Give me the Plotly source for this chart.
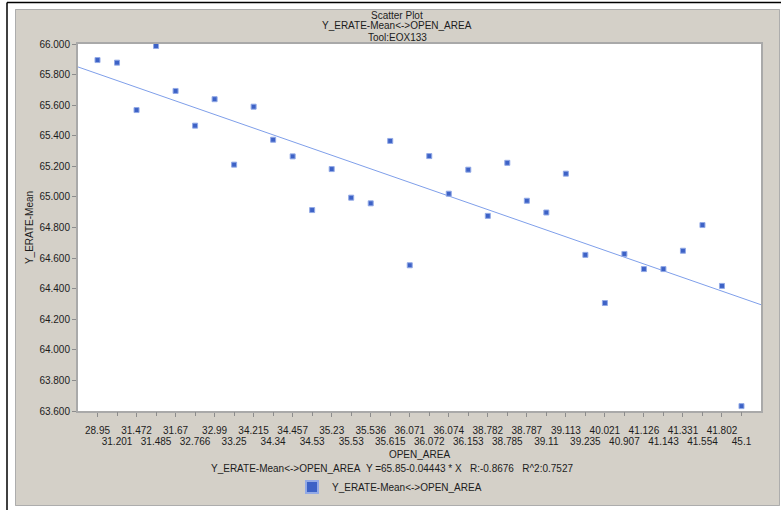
import plotly.graph_objects as go

# OPEN_AREA categories, in plotting order (position 1..34)
open_area = [
    "28.95", "31.201", "31.472", "31.485", "31.67", "32.766", "32.99", "33.25",
    "34.215", "34.34", "34.457", "34.53", "35.23", "35.53", "35.536", "35.615",
    "36.071", "36.072", "36.074", "36.153", "38.782", "38.785", "38.787", "39.11",
    "39.113", "39.235", "40.021", "40.907", "41.126", "41.143", "41.331", "41.554",
    "41.802", "45.1",
]

# Y_ERATE mean for each OPEN_AREA category
erate_mean = [
    65.895, 65.878, 65.568, 65.987, 65.693, 65.466, 65.639, 65.211,
    65.590, 65.374, 65.265, 64.914, 65.182, 64.995, 64.958, 65.366,
    64.553, 65.267, 65.021, 65.178, 64.876, 65.223, 64.975, 64.898,
    65.152, 64.621, 64.306, 64.627, 64.528, 64.528, 64.648, 64.816,
    64.418, 63.632,
]

# Linear fit reported for the series (X = category position)
fit_intercept = 65.85
fit_slope = -0.04443
fit_r = -0.8676
fit_r2 = 0.7527

series_name = "Y_ERATE-Mean<->OPEN_AREA"
title_lines = ["Scatter Plot", "Y_ERATE-Mean<->OPEN_AREA", "Tool:EOX133"]

# ---- page geometry -------------------------------------------------------
W, H = 781, 510
L, R, T, B = 78, 20, 44, 99
PW, PH = W - L - R, H - T - B


def px(x):
    return (x - L) / PW


def py(y):
    return (T + PH - y) / PH


FONT = "Liberation Sans, Arial, sans-serif"
TXT = "#1c1c1c"
PANEL = "#D4D0C8"
FRAME = "#A9A9A9"

positions = list(range(1, len(open_area) + 1))
x_range = [0, len(open_area) + 1]

fit_x = x_range
fit_y = [fit_intercept + fit_slope * v for v in fit_x]

fig = go.Figure()

fig.add_trace(go.Scatter(
    x=fit_x, y=fit_y, mode="lines",
    line=dict(color="#7F9FEA", width=1),
    showlegend=False, hoverinfo="skip",
))

fig.add_trace(go.Scatter(
    x=positions, y=erate_mean, mode="markers", name=series_name,
    marker=dict(symbol="square", size=5, color="#3D62C6",
                line=dict(color="#93AAE6", width=1)),
    customdata=open_area,
    hovertemplate="OPEN_AREA=%{customdata}<br>Y_ERATE-Mean=%{y:.3f}<extra></extra>",
))

# staggered category labels: first row and second row
row1_vals = positions[0::2]
row1_text = open_area[0::2]
row2_vals = positions[1::2]
row2_text = open_area[1::2]

tick_font = dict(family=FONT, size=10, color=TXT)

fig.update_layout(
    width=W, height=H,
    margin=dict(l=L, r=R, t=T, b=B, autoexpand=False),
    paper_bgcolor=PANEL,
    plot_bgcolor="white",
    font=dict(family=FONT, size=10, color=TXT),
    xaxis=dict(
        range=x_range, tickmode="array", tickvals=row1_vals, ticktext=row1_text,
        ticks="outside", ticklen=4, tickwidth=1, tickcolor="#8C8C8C",
        tickfont=tick_font, ticklabelstandoff=5,
        showline=True, linecolor=FRAME, linewidth=2, mirror=True,
        showgrid=False, zeroline=False, fixedrange=True,
        title=dict(text="OPEN_AREA", font=dict(family=FONT, size=10, color=TXT),
                   standoff=16),
    ),
    xaxis2=dict(
        range=x_range, overlaying="x", anchor="y", side="bottom",
        tickmode="array", tickvals=row2_vals, ticktext=row2_text,
        ticks="outside", ticklen=4, tickwidth=1, tickcolor="#8C8C8C",
        tickfont=tick_font, ticklabelstandoff=17,
        showline=False, showgrid=False, zeroline=False, fixedrange=True,
    ),
    yaxis=dict(
        range=[63.6, 66.0], tick0=63.6, dtick=0.2, tickformat=".3f",
        ticks="outside", ticklen=4, tickwidth=1, tickcolor="#8C8C8C",
        tickfont=tick_font,
        showline=True, linecolor=FRAME, linewidth=2, mirror=True,
        showgrid=False, zeroline=False, fixedrange=True,
        title=dict(text="Y_ERATE-Mean", font=dict(family=FONT, size=10, color=TXT),
                   standoff=4),
    ),
    legend=dict(
        orientation="h", x=px(292), y=py(487), xanchor="left", yanchor="middle",
        bgcolor="rgba(0,0,0,0)", font=dict(family=FONT, size=10, color=TXT),
        itemsizing="constant", itemwidth=30,
    ),
    showlegend=True,
)

# an empty trace on the second x axis so it is laid out with its labels
fig.add_trace(go.Scatter(x=[], y=[], xaxis="x2", showlegend=False, hoverinfo="skip"))

# window frame: white margins, panel border and the dark outer rule
shapes = [
    dict(type="rect", x0=px(0), x1=px(15), y0=py(H), y1=py(0),
         fillcolor="white", line=dict(width=0)),
    dict(type="rect", x0=px(0), x1=px(W), y0=py(9), y1=py(0),
         fillcolor="white", line=dict(width=0)),
    dict(type="rect", x0=px(0), x1=px(W), y0=py(H), y1=py(506),
         fillcolor="white", line=dict(width=0)),
    dict(type="rect", x0=px(780), x1=px(W), y0=py(H), y1=py(0),
         fillcolor="white", line=dict(width=0)),
    dict(type="rect", x0=px(15.5), x1=px(779.5), y0=py(505.5), y1=py(9.5),
         fillcolor="rgba(0,0,0,0)", line=dict(color="#ADADAD", width=1)),
    dict(type="line", x0=px(7), x1=px(W), y0=py(2.5), y1=py(2.5),
         line=dict(color="black", width=1.5)),
    dict(type="line", x0=px(7), x1=px(7), y0=py(2.5), y1=py(H),
         line=dict(color="black", width=1.5)),
]
for s in shapes:
    s.update(xref="paper", yref="paper", layer="below")
fig.update_layout(shapes=shapes)

# chart title lines
for text, ypix in zip(title_lines, [15, 26, 37]):
    fig.add_annotation(text=text, x=px(397), y=py(ypix), xref="paper", yref="paper",
                       xanchor="center", yanchor="middle", showarrow=False,
                       font=dict(family=FONT, size=10, color=TXT))

# fit summary line
nb = "\u00a0"
fit_text = (f"{series_name}{nb*2}Y ={fit_intercept}-{abs(fit_slope)} * X"
            f"{nb*3}R:{fit_r}{nb*3}R^2:{fit_r2}")
fig.add_annotation(text=fit_text, x=px(392), y=py(469), xref="paper", yref="paper",
                   xanchor="center", yanchor="middle", showarrow=False,
                   font=dict(family=FONT, size=10, color=TXT))

fig.write_html("out.html")
